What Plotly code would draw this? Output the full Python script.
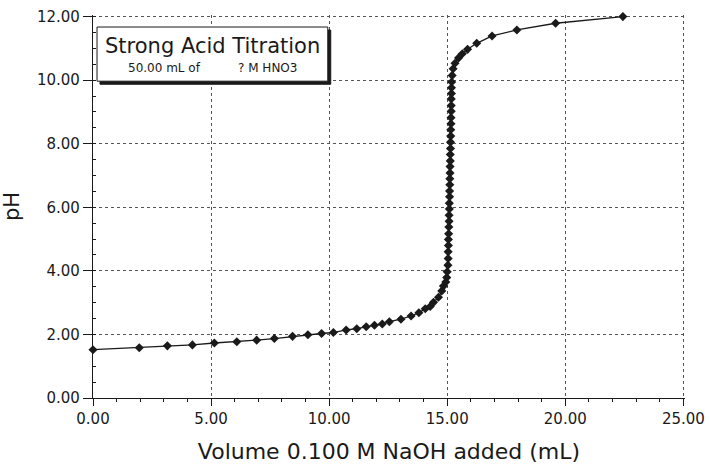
import plotly.graph_objects as go

# Titration data: volume of 0.100 M NaOH added (mL) and measured pH
volume_ml = [
    0.00, 1.96, 3.15, 4.21, 5.14, 6.09, 6.93, 7.68, 8.45, 9.10,
    9.68, 10.18, 10.72, 11.17, 11.57, 11.92, 12.25, 12.55, 13.04, 13.47,
    13.80, 14.07, 14.28, 14.42, 14.63, 14.77, 14.84, 14.94, 14.98, 15.00,
    15.03, 15.04, 15.04, 15.05, 15.05, 15.06, 15.07, 15.08,
    15.08, 15.09, 15.09, 15.10, 15.10, 15.11, 15.11, 15.12, 15.12, 15.13,
    15.13, 15.14, 15.14, 15.15, 15.15,
    15.16, 15.16, 15.17, 15.17, 15.17, 15.18, 15.18, 15.19, 15.21, 15.25,
    15.33, 15.48, 15.64, 15.86, 16.25, 16.90, 17.95, 19.59, 22.44,
]
ph_values = [
    1.52, 1.58, 1.64, 1.67, 1.73, 1.77, 1.82, 1.87, 1.94, 1.99,
    2.03, 2.06, 2.14, 2.18, 2.24, 2.29, 2.33, 2.40, 2.48, 2.58,
    2.68, 2.81, 2.88, 3.01, 3.17, 3.37, 3.52, 3.65, 3.79, 3.97,
    4.18, 4.39, 4.60, 4.80, 4.99, 5.17, 5.38, 5.56,
    5.75, 5.95, 6.13, 6.33, 6.51, 6.71, 6.90, 7.08, 7.28, 7.46,
    7.66, 7.85, 8.05, 8.24, 8.44,
    8.63, 8.82, 9.02, 9.20, 9.41, 9.58, 9.76, 9.94, 10.15, 10.36,
    10.53, 10.70, 10.83, 10.97, 11.16, 11.39, 11.58, 11.79, 12.00,
]

x_ticks = [0, 5, 10, 15, 20, 25]
x_tick_labels = ["0.00", "5.00", "10.00", "15.00", "20.00", "25.00"]
y_ticks = [0, 2, 4, 6, 8, 10, 12]
y_tick_labels = ["0.00", "2.00", "4.00", "6.00", "8.00", "10.00", "12.00"]

box_title = "Strong Acid Titration"
box_sub_left = "50.00 mL of"
box_sub_right = "? M HNO3"

FONT = "DejaVu Sans"
INK = "#1a1a1a"

# Ranges extended a hair so the gridlines at 25 and 12 are not dropped at the plot edge
X_RANGE = [0, 25.07]
Y_RANGE = [0, 12.05]

fig = go.Figure()
fig.add_trace(go.Scatter(
    x=volume_ml, y=ph_values, mode="lines+markers",
    line=dict(color=INK, width=1.3),
    marker=dict(symbol="diamond", size=7, color=INK),
    cliponaxis=False, showlegend=False,
))

axis_common = dict(
    showgrid=True, gridcolor="#555555", griddash="dot", gridwidth=1,
    showline=True, linecolor=INK, linewidth=1.3,
    ticks="outside", tickcolor=INK,
    tickfont=dict(family=FONT, size=15, color=INK),
    ticklabeloverflow="allow",
    zeroline=False, automargin=False,
)

fig.update_xaxes(
    range=X_RANGE, tickvals=x_ticks, ticktext=x_tick_labels,
    ticklen=7,
    minor=dict(dtick=1, ticks="outside", ticklen=3, tickcolor=INK, showgrid=False),
    title=dict(text="Volume 0.100 M NaOH added (mL)", font=dict(family=FONT, size=22, color=INK), standoff=16),
    **axis_common,
)
fig.update_yaxes(
    range=Y_RANGE, tickvals=y_ticks, ticktext=y_tick_labels,
    ticklen=9,
    minor=dict(dtick=0.5, ticks="inside", ticklen=3, tickcolor=INK, showgrid=False),
    title=dict(text="pH", font=dict(family=FONT, size=21, color=INK), standoff=13),
    **axis_common,
)

# Annotation box with drop shadow (paper coordinates)
bx0, bx1, by0, by1 = 0.0068, 0.3966, 0.8272, 0.9686
sx, sy = 0.005, 0.008
fig.add_shape(type="rect", xref="paper", yref="paper",
              x0=bx0 + sx, x1=bx1 + sx, y0=by0 - sy, y1=by1 - sy,
              line=dict(color=INK, width=1), fillcolor=INK, layer="above")
fig.add_shape(type="rect", xref="paper", yref="paper",
              x0=bx0, x1=bx1, y0=by0, y1=by1,
              line=dict(color=INK, width=1), fillcolor="white", layer="above")
fig.add_annotation(xref="paper", yref="paper", x=0.2017, y=0.9188,
                   xanchor="center", yanchor="middle",
                   text=box_title, showarrow=False,
                   font=dict(family=FONT, size=21, color=INK))
fig.add_annotation(xref="paper", yref="paper", x=0.1203, y=0.8613,
                   xanchor="center", yanchor="middle",
                   text=box_sub_left, showarrow=False,
                   font=dict(family=FONT, size=12, color=INK))
fig.add_annotation(xref="paper", yref="paper", x=0.2949, y=0.8613,
                   xanchor="center", yanchor="middle",
                   text=box_sub_right, showarrow=False,
                   font=dict(family=FONT, size=12, color=INK))

fig.update_layout(
    width=710, height=466,
    margin=dict(l=93, r=25, t=15, b=68),
    paper_bgcolor="white", plot_bgcolor="white",
    font=dict(family=FONT, color=INK),
)

# Remove the default page margin so the figure fills the window exactly; hide the modebar.
fig.write_html(
    "out.html",
    config={"displayModeBar": False},
    post_script="document.body.style.margin='0';document.body.style.overflow='hidden';",
)
